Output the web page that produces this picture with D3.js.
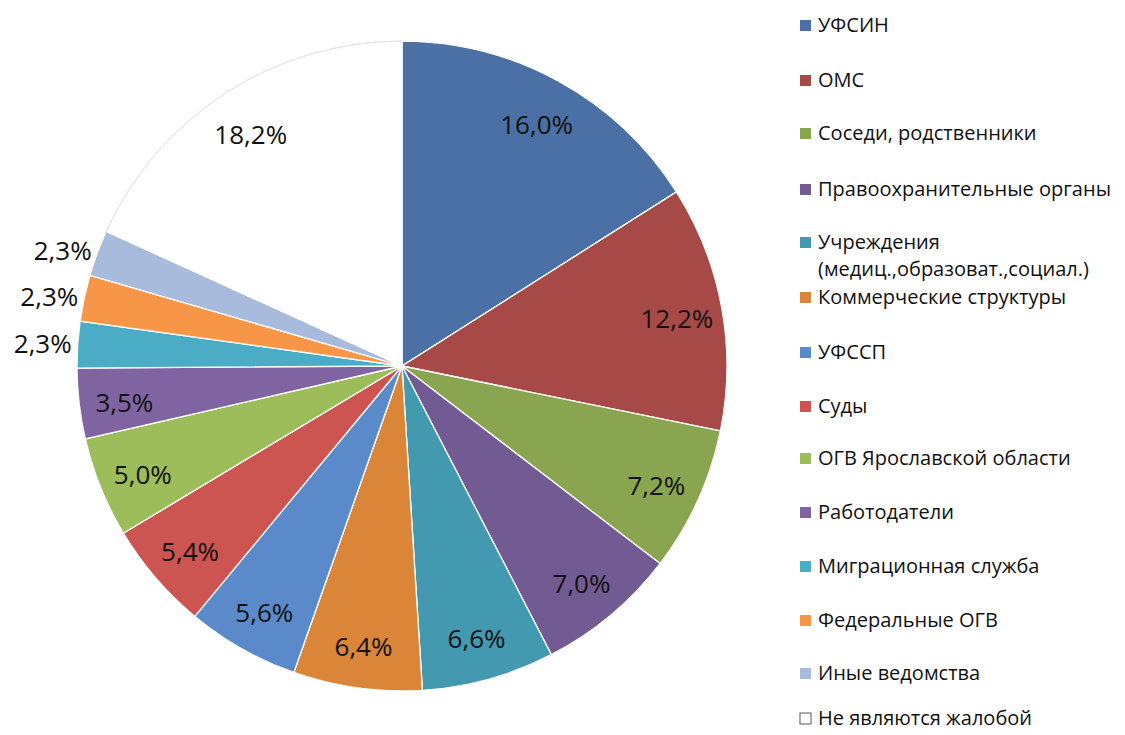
<!DOCTYPE html>
<html>
<head>
<meta charset="utf-8">
<script src="https://cdn.jsdelivr.net/npm/d3@7"></script>
<style>
  body { margin: 0; background: #fff; }
  text { font-family: "Open Sans", "Noto Sans", sans-serif; }
</style>
</head>
<body>
<div id="chart"></div>
<script>
// Data
var categories = [
  'УФСИН', 'ОМС', 'Соседи, родственники', 'Правоохранительные органы',
  'Учреждения\n(медиц.,образоват.,социал.)', 'Коммерческие структуры', 'УФССП', 'Суды',
  'ОГВ Ярославской области', 'Работодатели', 'Миграционная служба',
  'Федеральные ОГВ', 'Иные ведомства', 'Не являются жалобой'
];
var values = [16.0, 12.2, 7.2, 7.0, 6.6, 6.4, 5.6, 5.4, 5.0, 3.5, 2.3, 2.3, 2.3, 18.2];
var colors = [
  '#4a70a6', '#a74a47', '#8aa54f', '#725a92', '#4299b0', '#da8538', '#5a8ac9',
  '#cc5451', '#9dbd5b', '#8064a2', '#4bacc6', '#f79646', '#a9bbdc', '#ffffff'
];
// labels placed outside the pie (small slices)
var outsideLabels = [10, 11, 12];

var width = 1125, height = 735;
var cx = 402, cy = 366, radius = 325;

var svg = d3.select('#chart')
  .append('svg')
  .attr('width', width)
  .attr('height', height);

var main = svg.append('g')
  .attr('transform', 'translate(' + cx + ',' + cy + ')');

var pie = d3.pie().sort(null).value(function(d) { return d; });
var arcs = pie(values);

var arc = d3.arc().innerRadius(0).outerRadius(radius);
var labelArc = d3.arc().innerRadius(radius * 0.86).outerRadius(radius * 0.86);

// Slices
main.selectAll('path.slice')
  .data(arcs)
  .enter()
  .append('path')
  .attr('class', 'slice')
  .attr('d', arc)
  .attr('fill', function(d, i) { return colors[i]; })
  .attr('stroke', '#fff')
  .attr('stroke-width', 1.3);

// thin grey edge of the white slice
main.append('path')
  .attr('d', d3.arc().innerRadius(radius).outerRadius(radius)(arcs[13]))
  .attr('fill', 'none')
  .attr('stroke', '#e4e4e4')
  .attr('stroke-width', 1);

var fmt = function(v) { return v.toFixed(1).replace('.', ',') + '%'; };

// Labels
main.selectAll('text.lbl')
  .data(arcs)
  .enter()
  .append('text')
  .attr('class', 'lbl')
  .attr('font-size', 26)
  .attr('fill', '#111')
  .attr('dy', '0.35em')
  .each(function(d, i) {
    var el = d3.select(this);
    if (outsideLabels.indexOf(i) >= 0) {
      var a = (d.startAngle + d.endAngle) / 2;
      var r = radius + 6;
      el.attr('x', r * Math.sin(a))
        .attr('y', -r * Math.cos(a))
        .attr('text-anchor', 'end');
    } else {
      var c = labelArc.centroid(d);
      el.attr('x', c[0]).attr('y', c[1] + 4).attr('text-anchor', 'middle');
    }
  })
  .text(function(d) { return fmt(d.value); });

// Legend
var legendY = [25, 80, 133, 189, 242, 297, 352, 406, 458, 512, 566, 620, 673, 718];
var legend = svg.append('g').attr('transform', 'translate(800,0)');

var item = legend.selectAll('g.item')
  .data(categories)
  .enter()
  .append('g')
  .attr('class', 'item')
  .attr('transform', function(d, i) { return 'translate(0,' + legendY[i] + ')'; });

item.append('rect')
  .attr('x', 0)
  .attr('y', -5)
  .attr('width', 11)
  .attr('height', 11)
  .attr('fill', function(d, i) { return colors[i]; })
  .attr('stroke', function(d, i) { return i === 13 ? '#555' : 'none'; })
  .attr('stroke-width', 1);

item.append('text')
  .attr('font-size', 20)
  .attr('fill', '#111')
  .each(function(d) {
    var lines = d.split('\n');
    var t = d3.select(this);
    lines.forEach(function(l, k) {
      t.append('tspan')
        .attr('x', 18)
        .attr('dy', k === 0 ? '0.35em' : '1.35em')
        .text(l);
    });
  });
</script>
</body>
</html>
